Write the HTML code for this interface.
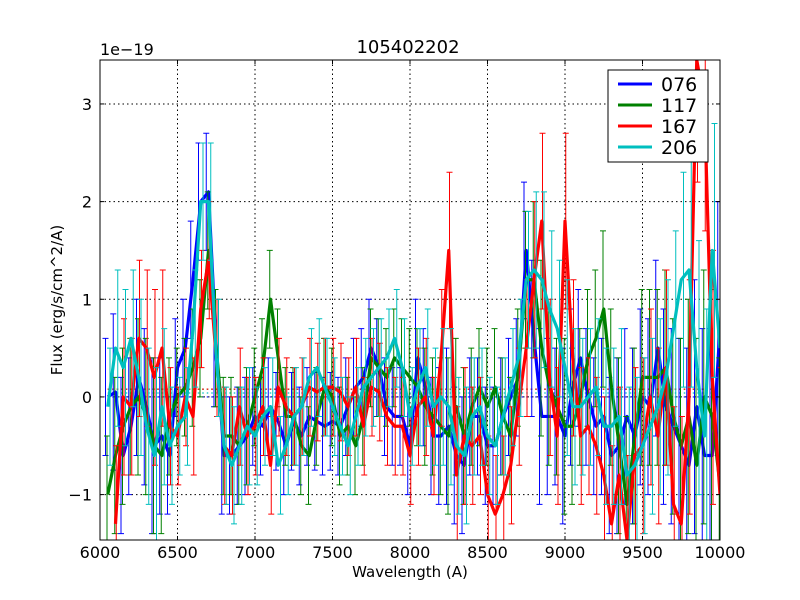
<!DOCTYPE html>
<html><head><meta charset="utf-8"><style>
html,body{margin:0;padding:0;width:800px;height:600px;overflow:hidden;background:#fff;}
svg{display:block;font-family:"DejaVu Sans","Liberation Sans",sans-serif;}
</style></head><body>
<svg id="chart" width="800" height="600" viewBox="0 0 800 600">
<defs><clipPath id="pc"><rect x="100" y="60" width="620" height="480"/></clipPath></defs>
<rect x="0" y="0" width="800" height="600" fill="#fff"/>
<g id="grid"></g>
<g id="refs" clip-path="url(#pc)"></g>
<g id="series" clip-path="url(#pc)"></g>
<rect x="100" y="60" width="620" height="480" fill="none" stroke="#000" stroke-width="1"/>
<g id="ticks"></g>
<text x="408" y="53" font-size="18" text-anchor="middle">105402202</text>
<text x="100" y="55" font-size="16">1e−19</text>
<text x="410" y="577" font-size="15" text-anchor="middle">Wavelength (A)</text>
<text transform="translate(62,300) rotate(-90)" font-size="15" text-anchor="middle">Flux (erg/s/cm^2/A)</text>
<g id="legend">
<rect x="608" y="70" width="100" height="92" fill="#fff" stroke="#000" stroke-width="1"/>
</g>
</svg>
<script>
const wavelengths=[6050,6100,6150,6200,6250,6300,6350,6400,6450,6500,6550,6600,6650,6700,6750,6800,6850,6900,6950,7000,7050,7100,7150,7200,7250,7300,7350,7400,7450,7500,7550,7600,7650,7700,7750,7800,7850,7900,7950,8000,8050,8100,8150,8200,8250,8300,8350,8400,8450,8500,8550,8600,8650,8700,8750,8800,8850,8900,8950,9000,9050,9100,9150,9200,9250,9300,9350,9400,9450,9500,9550,9600,9650,9700,9750,9800,9850,9900,9950,10000];
const seriesNames=["076","117","167","206"];
const seriesColors=["#0000ff","#008000","#ff0000","#00bfbf"];
const flux076=[0,.05,-.6,-.3,.2,-.1,-.5,-.4,-.6,.3, .5,1.2,2.0,2.1,.5,-.6,-.6,-.5,-.4,-.2, -.3,-.1,-.25,-.5,-.25,-.4,-.2,-.25,-.3,-.25, -.3,-.1,.1,.2,.5,.3,-.1,-.2,-.2,-.5, .4,.1,-.4,-.4,-.3,-.6,-.7,-.2,-.2,-.5, -.5,-.2,0,.2,1.5,.6,-.2,-.2,-.2,-.4, .1,.4,0,-.3,-.2,-.6,-.5,-.2,-.4,0, -.1,.5,-.1,-.3,-.5,-.7,-.1,-.6,-.6,.7];
const flux117=[-1,-.6,-.3,-.1,0,-.2,-.5,-.6,-.2,0, .1,.3,.6,1.5,.5,-.4,-.4,-.5,-.3,0, .3,1.0,.4,-.2,-.2,-.5,-.6,-.2,.1,0, -.4,-.3,-.5,-.2,.4,.3,.2,.4,.3,.2, .1,-.1,-.2,-.3,-.4,-.1,-.4,-.1,.1,-.1, .1,-.2,-.4,.3,1.2,1.2,.5,.1,-.1,-.3, -.3,0,.4,.6,.9,.1,-.5,-1.1,-.4,.2, .2,.2,.3,-.2,-.5,-.2,-.7,0,-.2,-.9];
const flux167=[null,-1.3,0,-.1,.6,.5,.2,.5,-.3,-.4, 0,-.2,.9,1.4,.4,-.5,-.6,-.1,-.4,-.3, -.1,-.7,.1,-.1,-.2,-.1,.1,.05,.1,.1, .05,-.1,.1,-.3,.1,.05,-.2,-.3,-.3,-.6, -.1,0,-.4,.4,1.5,-.8,-.4,-.5,-.4,-1.0, -1.2,-1.0,-.7,-.1,.5,1.2,1.8,.2,-.4,1.8, .4,-.4,-.3,-.5,-.8,-1.3,-.8,-1.5,-.6,-.5, 0,-.4,.3,-1.1,-1.3,0,3.5,3.0,.2,-1.0];
const flux206=[-.1,.5,.3,.6,.2,-.3,-.6,-.1,-.5,-.3, -.2,.7,2.0,2.0,.4,-.5,-.7,-.5,-.3,-.4, -.2,-.1,-.7,-.5,-.2,-.1,.2,.3,.1,-.1, -.3,-.5,-.2,.1,.2,.3,.4,.6,.3,-.2, .1,.3,-.1,0,-.1,-.5,-.6,-.2,-.1,-.4, -.5,-.2,.1,.4,1.2,1.3,1.2,.9,.7,.3, -.1,-.1,0,.1,-.3,-.3,-.2,-.8,-.7,-.5, -.3,-.1,.2,.7,1.2,1.3,.3,-.4,1.5,.5];
const fluxErr=[.6,.8,.8,.7,.8,.8,.9,.8,.6,.5, .5,.6,.6,.6,.6,.6,.6,.6,.6,.5, .5,.5,.5,.5,.5,.5,.5,.5,.5,.5, .5,.5,.5,.5,.5,.5,.5,.5,.5,.5, .6,.6,.6,.7,.8,.7,.7,.6,.6,.6, .6,.6,.6,.6,.7,.8,.9,.8,.7,.9, .8,.7,.7,.7,.8,.8,.9,.9,.9,.9, .9,.9,1.0,1.0,1.1,1.2,1.3,1.3,1.3,1.3];
const refLevels=[0,.08,.08,.04];
const xTicks=[6000,6500,7000,7500,8000,8500,9000,9500,10000];
const yTicks=[-1,0,1,2,3];
const yTickLabels=["−1","0","1","2","3"];

const X0=100,X1=720,Y0=60,Y1=540,XMIN=6000,XMAX=10000,YMIN=-1.465,YMAX=3.45;
const xs=v=>X0+(v-XMIN)/(XMAX-XMIN)*(X1-X0);
const ys=v=>Y1-(v-YMIN)/(YMAX-YMIN)*(Y1-Y0);
const NS="http://www.w3.org/2000/svg";
function mk(tag,attrs,parent){const e=document.createElementNS(NS,tag);for(const k in attrs)e.setAttribute(k,attrs[k]);parent.appendChild(e);return e;}
const grid=document.getElementById('grid'),ticks=document.getElementById('ticks');
xTicks.forEach((t,i)=>{const x=xs(t);
 if(i>0&&i<xTicks.length-1){const g=mk('line',{x1:x,x2:x,y1:Y0,y2:Y1,stroke:'#000','stroke-dasharray':'1.5,3','stroke-width':1},grid);
 }
 mk('line',{x1:x,x2:x,y1:Y1,y2:Y1-4,stroke:'#000'},ticks);mk('line',{x1:x,x2:x,y1:Y0,y2:Y0+4,stroke:'#000'},ticks);
 const tl=mk('text',{x:x,y:Y1+18,'font-size':16,'text-anchor':'middle'},ticks);tl.textContent=t;
 });
yTicks.forEach((t,i)=>{const y=ys(t);
 const g=mk('line',{x1:X0,x2:X1,y1:y,y2:y,stroke:'#000','stroke-dasharray':'1.5,3','stroke-width':1},grid);
 
 mk('line',{x1:X0,x2:X0+4,y1:y,y2:y,stroke:'#000'},ticks);mk('line',{x1:X1,x2:X1-4,y1:y,y2:y,stroke:'#000'},ticks);
 const tl=mk('text',{x:X0-8,y:y+6,'font-size':16,'text-anchor':'end'},ticks);tl.textContent=yTickLabels[i];
 });
const refs=document.getElementById('refs');
refLevels.forEach((v,i)=>{const l=mk('line',{x1:xs(6050),x2:X1,y1:ys(v),y2:ys(v),stroke:seriesColors[i],'stroke-dasharray':'1.5,3','stroke-width':1.2},refs);
 });
const clampY=v=>Math.max(YMIN,Math.min(YMAX,v));
const sg=document.getElementById('series');
[flux076,flux117,flux167,flux206].forEach((arr,si)=>{
 const g=mk('g',{},sg);
 const c=seriesColors[si];let d='';
 arr.forEach((v,i)=>{if(v===null)return;const x=xs(wavelengths[i])+(si-1.5)*1.5,e=fluxErr[i];
  const lo=clampY(v-e),hi=clampY(v+e);
  let pd=`M${x},${ys(lo)}V${ys(hi)}`;
  if(lo===v-e)pd+=`M${x-3},${ys(lo)}h6`;
  if(hi===v+e)pd+=`M${x-3},${ys(hi)}h6`;
  const eb=mk('path',{d:pd,stroke:c,'stroke-width':1,fill:'none'},g);
  
  d+=(d?'L':'M')+xs(wavelengths[i])+','+ys(clampY(v));});
 const p=mk('path',{d:d,stroke:c,'stroke-width':3.2,fill:'none','stroke-linejoin':'round'},g);
 });
const lg=document.getElementById('legend');
seriesNames.forEach((n,i)=>{const y=84+i*21;
 const e=mk('g',{},lg);
 mk('line',{x1:618,x2:652,y1:y,y2:y,stroke:seriesColors[i],'stroke-width':3},e);
 const t=mk('text',{x:661,y:y+7,'font-size':19},e);t.textContent=n;});
</script>
</body></html>
